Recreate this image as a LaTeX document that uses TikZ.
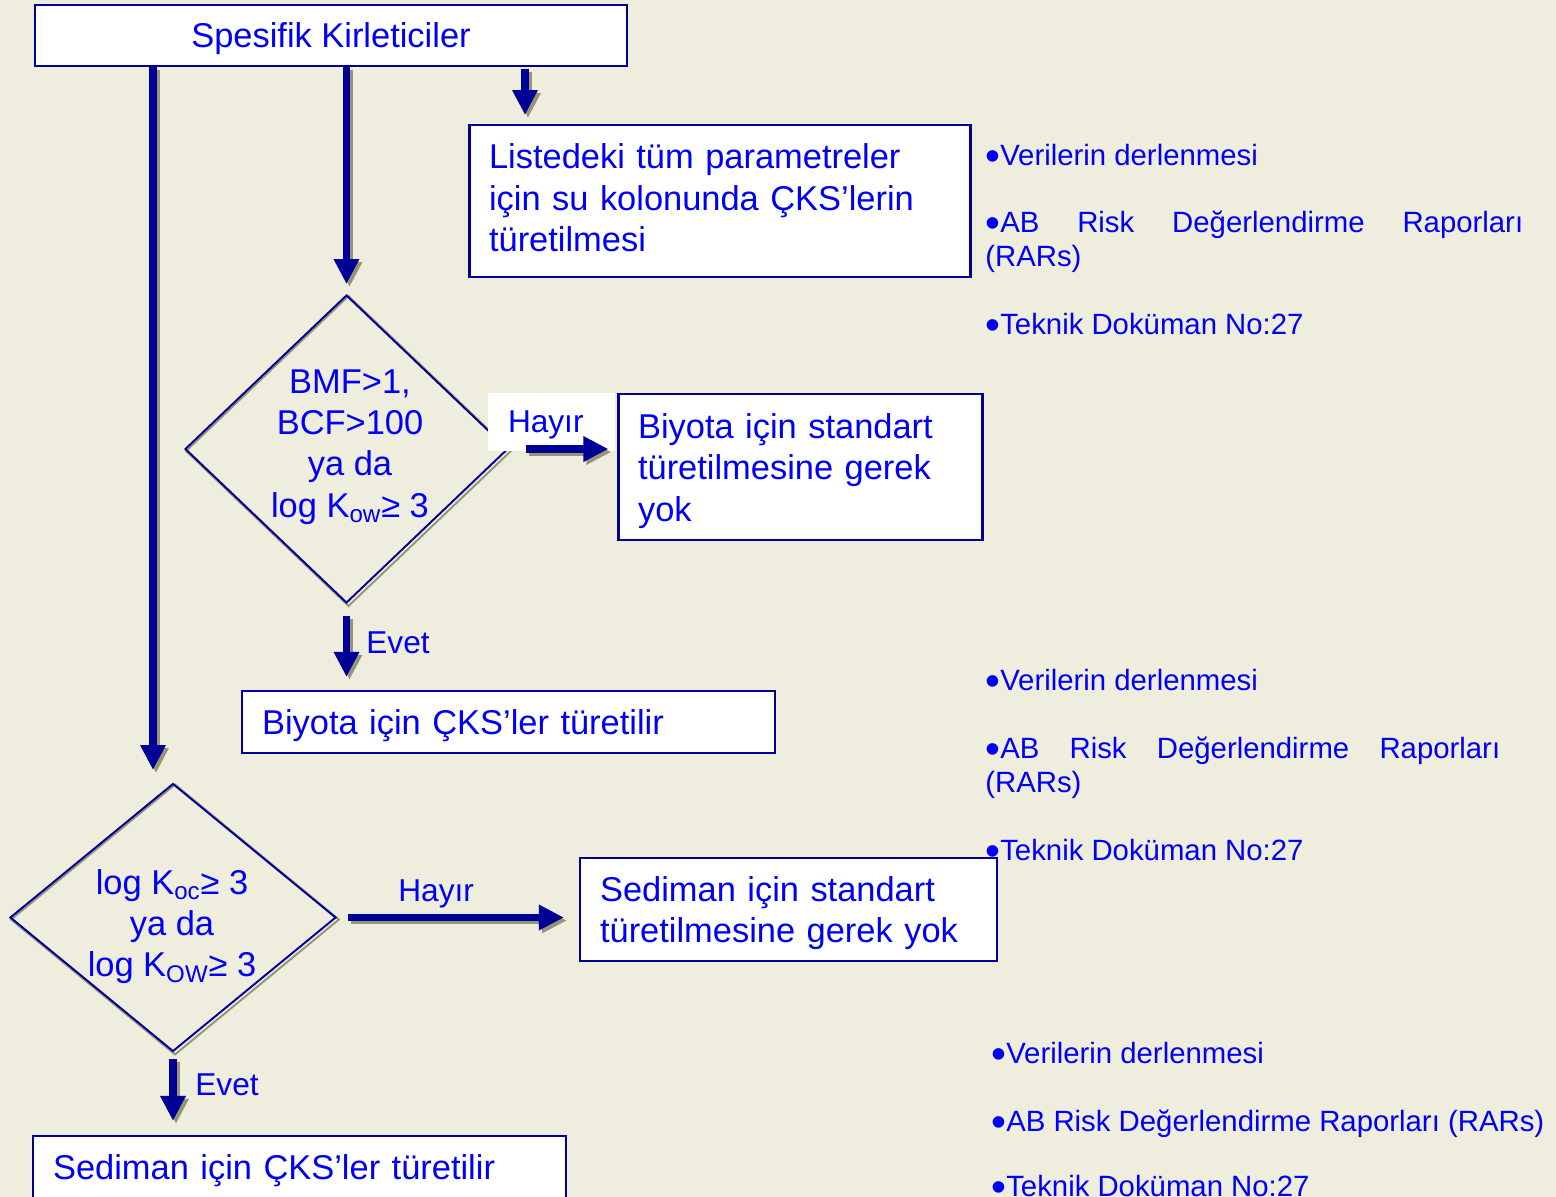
\documentclass[tikz,border=0pt]{standalone}
\usepackage{fontspec}
\setmainfont{Liberation Sans}
\usetikzlibrary{calc,arrows.meta,shapes.geometric}
\definecolor{paper}{RGB}{238,237,222}
\definecolor{navy}{RGB}{0,0,150}
\definecolor{ink}{RGB}{0,0,245}
\definecolor{dropcol}{RGB}{150,150,118}
\pgfdeclarelayer{back}
\pgfdeclarelayer{shadowlayer}
\pgfsetlayers{back,shadowlayer,main}
\def\bigtext{\fontsize{19.6}{23.5}\selectfont}
\def\labtext{\fontsize{18}{21.6}\selectfont}
\def\notetext{\fontsize{16.7}{20}\selectfont}
\def\bul{\raisebox{-0.2em}{\scalebox{1.45}{•}}}
\def\flowarrow[#1](#2)(#3){\draw[flowshadow,#1] (#2) -- (#3); \draw[flow,#1] (#2) -- (#3);}
\tikzset{
	flow/.style={navy, line width=0.15cm, -{Triangle[width=0.48cm,length=0.5cm]}},
	flowshadow/.style={flow, color=dropcol, transform canvas={shift={(3,3)}}},
	box/.style={draw=navy, line width=1.3pt, fill=white, text=ink, font=\bigtext, inner ysep=0pt},
	leftbox/.style={box, align=left, inner xsep=0.39cm},
	decision/.style={diamond, draw=navy, line width=1.1pt, inner sep=0pt},
	dtext/.style={text=ink, font=\bigtext, align=center, inner sep=0pt},
	lab/.style={text=ink, font=\labtext, anchor=base west, inner sep=0pt},
	note/.style={text=ink, font=\notetext, anchor=base west, inner sep=0pt}
}
\begin{document}
\begin{tikzpicture}[x=0.02cm, y=-0.02cm]
			%%%%% START %%%%%
			\useasboundingbox (0,0) rectangle (1556,1197);
			\begin{pgfonlayer}{back}
			\fill[paper] (0,0) rectangle (1556,1197);
			\end{pgfonlayer}
			
			\node[box, minimum width=11.84cm, minimum height=1.22cm, text depth=0pt] (spesifik) at (331,35.5) {Spesifik Kirleticiler};
			\node[leftbox, text width=9.24cm, minimum width=10cm, minimum height=3.04cm, text depth=1.78cm] (liste) at (720,201) {Listedeki tüm parametreler\\için su kolonunda ÇKS’lerin\\türetilmesi};
			
			\node[decision, minimum width=6.46cm, minimum height=6.16cm] (bmf) at (346.5,449) {};
			\node[dtext] (bmf-t) at (350,447) {BMF>1,\\BCF>100\\ya da\\log K\textsubscript{ow}≥ 3};
			
			\node[fill=white, text=ink, font=\labtext, align=left, text width=1.74cm, inner xsep=0.4cm, inner ysep=0pt, text depth=0pt, minimum height=1.16cm] (hayirA) at (551.5,422) {Hayır};
			\node[leftbox, text width=6.5cm, minimum width=7.26cm, minimum height=2.92cm, text depth=1.64cm] (biyonot) at (800.5,467) {Biyota için standart\\türetilmesine gerek\\yok};
			
			\node[lab] (evetA) at (366,653) {Evet};
			\node[leftbox, text width=9.86cm, minimum width=10.66cm, minimum height=1.24cm, text depth=0pt] (biyo) at (508.5,722) {Biyota için ÇKS’ler türetilir};
			
			\node[decision, minimum width=6.52cm, minimum height=5.36cm] (koc) at (173,917.5) {};
			\node[dtext] (koc-t) at (172,926.5) {log K\textsubscript{oc}≥ 3\\ya da\\log K\textsubscript{OW}≥ 3};
			
			\node[lab] (hayirB) at (398,901) {Hayır};
			\node[leftbox, text width=7.54cm, minimum width=8.34cm, minimum height=2.06cm, text depth=0.82cm] (sedno) at (788.5,909.5) {Sediman için standart\\türetilmesine gerek yok};
			
			\node[lab] (evetB) at (195,1095) {Evet};
			\node[leftbox, text width=9.86cm, minimum width=10.66cm, minimum height=1.24cm, text depth=0pt] (sedi) at (299.5,1167) {Sediman için ÇKS’ler türetilir};
			
			\begin{pgfonlayer}{shadowlayer}
			\draw[dropcol, line width=1.1pt, transform canvas={shift={(2,2)}}] (bmf.north) -- (bmf.east) -- (bmf.south) -- (bmf.west) -- cycle;
			\draw[dropcol, line width=1.1pt, transform canvas={shift={(2,2)}}] (koc.north) -- (koc.east) -- (koc.south) -- (koc.west) -- cycle;
			\end{pgfonlayer}
			
			\coordinate (a1) at (153,770);
			\coordinate (a3) at (525,115);
			\flowarrow[](spesifik.south -| a1)(a1)
			\flowarrow[shorten >=0.2cm](spesifik.south -| bmf.north)(bmf.north)
			\flowarrow[shorten <=0.04cm](spesifik.south -| a3)(a3)
			\flowarrow[shorten <=0.34cm, shorten >=0.18cm](bmf.east)(bmf.east -| biyonot.west)
			\flowarrow[shorten <=0.24cm, shorten >=0.26cm](bmf.south)(bmf.south |- biyo.north)
			\flowarrow[shorten <=0.22cm, shorten >=0.3cm](koc.east)(koc.east -| sedno.west)
			\flowarrow[shorten <=0.13cm, shorten >=0.28cm](koc.south)(koc.south |- sedi.north)
			
			\node[note] (verA) at (985,165) {\bul Verilerin derlenmesi};
			\node[note] (abA) at (985,232) {\makebox[10.76cm][s]{\bul AB Risk Değerlendirme Raporları}};
			\node[note] (rarA) at (985,266) {(RARs)};
			\node[note] (tekA) at (985,334) {\bul Teknik Doküman No:27};
			
			\node[note] (verB) at (985,690) {\bul Verilerin derlenmesi};
			\node[note] (abB) at (985,758) {\makebox[10.3cm][s]{\bul AB Risk Değerlendirme Raporları}};
			\node[note] (rarB) at (985,792) {(RARs)};
			\node[note] (tekB) at (985,860) {\bul Teknik Doküman No:27};
			
			\node[note] (verC) at (991,1063) {\bul Verilerin derlenmesi};
			\node[note] (abC) at (991,1131) {\bul AB Risk Değerlendirme Raporları (RARs)};
			\node[note] (tekC) at (991,1196) {\bul Teknik Doküman No:27};
			%%%%% END %%%%%
\end{tikzpicture}
\end{document}
